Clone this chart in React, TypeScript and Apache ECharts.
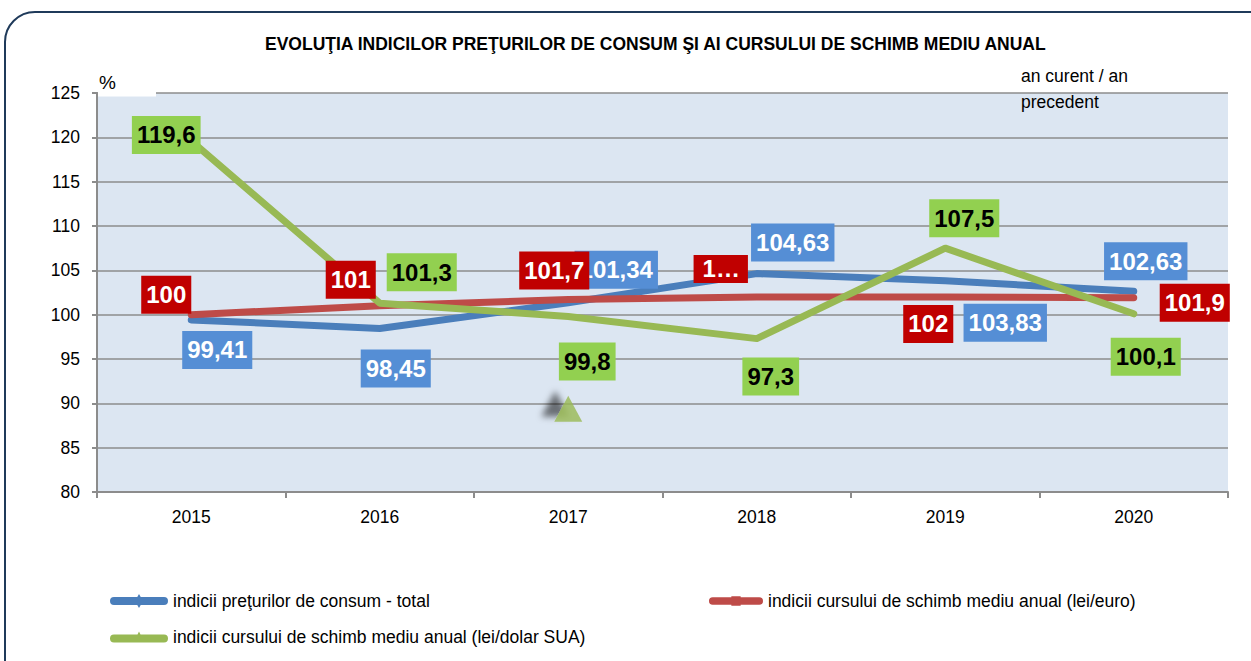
import React, { useEffect, useRef } from "react";
import * as echarts from "echarts";

const years = ["2015", "2016", "2017", "2018", "2019", "2020"];
const cpiName = "indicii preţurilor de consum - total";
const eurName = "indicii cursului de schimb mediu anual (lei/euro)";
const usdName = "indicii cursului de schimb mediu anual (lei/dolar SUA)";
const cpiValues = [99.41, 98.45, 101.34, 104.63, 103.83, 102.63];
const eurValues = [100, 101, 101.7, 102, 102, 101.9];
const usdValues = [119.6, 101.3, 99.8, 97.3, 107.5, 100.1];
const strayMarker = [[2, 89.4]];
const yTicks = { min: 80, max: 125, interval: 5 };
const eurLabelOverride: Record<number, string> = { 3: "1…" };

// label placement (pixels relative to the point)
const cpiOffsets = [[26, 30], [16, 40], [48, -33], [36, -31], [60, 42], [12, -30]];
const eurOffsets = [[-25, -20], [-29, -26], [-14, -29], [-36, -28], [-17, 27], [61, 5]];
const usdOffsets = [[-25, -6], [42, -31], [19, 45], [14, 38], [19, -30], [12, 43]];

const SANS = '"Liberation Sans", Arial, sans-serif';

const fmt = (v: number) => String(v).replace(".", ",");

function buildLabels(values: number[], offsets: number[][], bg: string, fg: string, override: Record<number, string> = {}) {
  return values.map((v, i) => ({
    value: v,
    label: {
      show: true,
      position: "inside",
      offset: offsets[i],
      backgroundColor: bg,
      color: fg,
      fontFamily: SANS,
      fontWeight: "bold",
      fontSize: 24,
      lineHeight: 26,
      padding: override[i] !== undefined ? [1, 8, 1, 9] : [6, 5, 6, 5],
      formatter: override[i] !== undefined ? override[i] : fmt(v),
    },
  }));
}

function legendIcon(kind: string) {
  const bar = "M4 3 H54 A4 4 0 0 1 54 11 H4 A4 4 0 0 1 4 3 Z";
  if (kind === "diamond") return "path://" + bar + " M29 0 L33 7 L29 14 L25 7 Z";
  if (kind === "square") return "path://" + bar + " M24 2 H34 V12 H24 Z";
  return "path://" + bar + " M29 0 L34 10 L24 10 Z";
}

function lineSeries(name: string, values: number[], color: string, z: number) {
  return {
    name,
    type: "line",
    data: values,
    symbol: "none",
    itemStyle: { color },
    lineStyle: { color, width: 7, cap: "round", join: "round" },
    z,
  };
}

function labelSeries(name: string, data: any[], z: number) {
  return {
    name,
    type: "line",
    data,
    symbol: "circle",
    symbolSize: 1,
    showSymbol: true,
    itemStyle: { color: "rgba(0,0,0,0)", borderWidth: 0 },
    lineStyle: { color: "rgba(0,0,0,0)", width: 0 },
    emphasis: { disabled: true },
    z,
  };
}

export default function App() {
  const ref = useRef<HTMLDivElement>(null);
  useEffect(() => {
    if (!ref.current) return;
    const chart = echarts.init(ref.current, undefined, { renderer: "svg" });
    const legendText = { fontSize: 17.5, color: "#000", fontFamily: SANS };
    chart.setOption({
      animation: false,
      backgroundColor: "#fff",
      title: {
        text: "EVOLUŢIA INDICILOR PREŢURILOR DE CONSUM ŞI AI CURSULUI DE SCHIMB MEDIU ANUAL",
        left: 260,
        top: 30,
        textStyle: { fontFamily: SANS, fontWeight: "bold", fontSize: 17.5, color: "#000" },
      },
      grid: { left: 97, right: 23, top: 93, bottom: 169, show: true, backgroundColor: "#DCE6F2", borderWidth: 0 },
      legend: [
        { data: [{ name: cpiName, icon: legendIcon("diamond") }], left: 110, top: 592, padding: 0, itemWidth: 58, itemHeight: 14, textStyle: legendText },
        { data: [{ name: eurName, icon: legendIcon("square") }], left: 709, top: 592, padding: 0, itemWidth: 54, itemHeight: 14, textStyle: legendText },
        { data: [{ name: usdName, icon: legendIcon("triangle") }], left: 110, top: 628, padding: 0, itemWidth: 58, itemHeight: 14, textStyle: legendText },
      ],
      xAxis: {
        type: "category",
        data: years,
        boundaryGap: true,
        axisLine: { show: true, lineStyle: { color: "#8c8c8c", width: 2 } },
        axisTick: { show: true, length: 6, lineStyle: { color: "#8c8c8c", width: 2 } },
        axisLabel: { fontSize: 17.5, color: "#000", fontFamily: SANS, margin: 16 },
        splitLine: { show: false },
      },
      yAxis: {
        type: "value",
        min: yTicks.min,
        max: yTicks.max,
        interval: yTicks.interval,
        axisLine: { show: true, lineStyle: { color: "#8c8c8c", width: 2 } },
        axisTick: { show: true, length: 5, lineStyle: { color: "#8c8c8c", width: 2 } },
        axisLabel: { fontSize: 17.5, color: "#000", fontFamily: SANS, margin: 17 },
        splitLine: { show: true, lineStyle: { color: "#8c8c8c", width: 1.5 } },
      },
      series: [
        lineSeries(cpiName, cpiValues, "#4A7EBB", 2),
        lineSeries(eurName, eurValues, "#BE4B48", 3),
        lineSeries(usdName, usdValues, "#98B954", 4),
        labelSeries("cpi-labels", buildLabels(cpiValues, cpiOffsets, "#558ED5", "#fff"), 10),
        labelSeries("eur-labels", buildLabels(eurValues, eurOffsets, "#C00000", "#fff", eurLabelOverride), 11),
        labelSeries("usd-labels", buildLabels(usdValues, usdOffsets, "#92D050", "#000"), 12),
        {
          name: "marker",
          type: "scatter",
          data: strayMarker,
          symbol: "triangle",
          symbolSize: [28, 26],
          itemStyle: {
            color: "#98B954",
            shadowColor: "rgba(0,0,0,0.65)",
            shadowBlur: 6,
            shadowOffsetX: -13,
            shadowOffsetY: -5,
          },
          z: 1,
        },
      ],
      graphic: [
        {
          type: "rect",
          z: 100,
          shape: { x: 5, y: 12, width: 1320, height: 720, r: 30 },
          style: { fill: "none", stroke: "#1F3A5A", lineWidth: 2 },
        },
        {
          type: "rect",
          z: 90,
          shape: { x: 98, y: 89, width: 58, height: 7.5 },
          style: { fill: "#fff" },
        },
        {
          type: "text",
          z: 100,
          left: 99,
          top: 73,
          style: { text: "%", fontSize: 19, fill: "#000", fontFamily: SANS },
        },
        {
          type: "text",
          z: 100,
          left: 1021,
          top: 63,
          style: { text: "an curent / an\nprecedent", fontSize: 17.5, lineHeight: 26, fill: "#000", fontFamily: SANS },
        },
      ],
    });
    return () => chart.dispose();
  }, []);
  return <div ref={ref} style={{ position: "fixed", left: 0, top: 0, width: 1251, height: 661 }} />;
}
